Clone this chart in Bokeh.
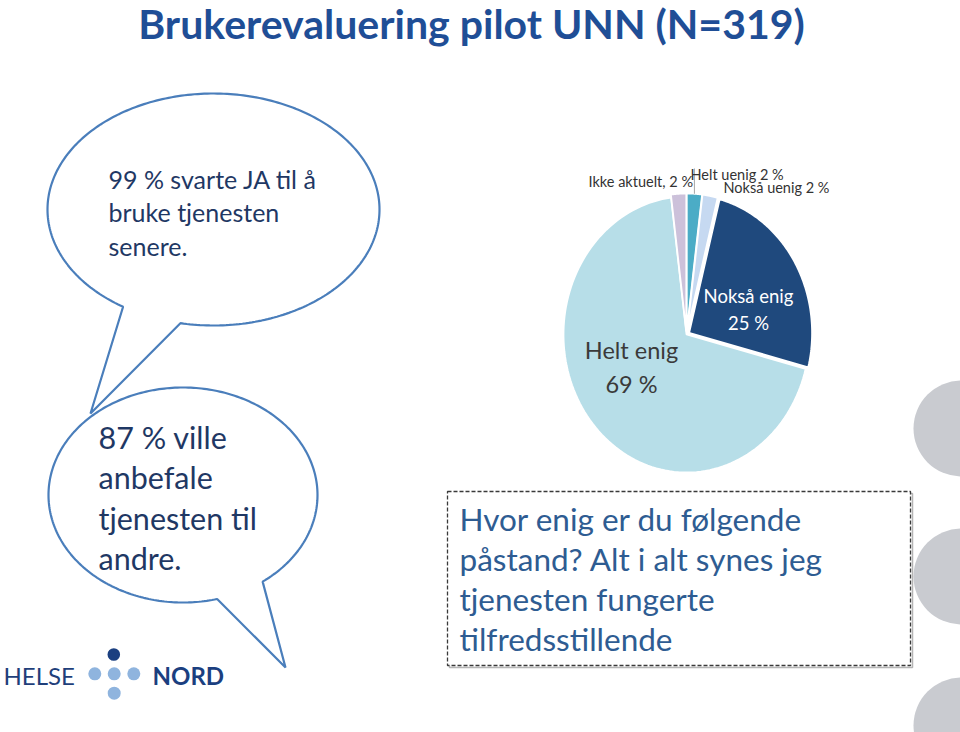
import numpy as np
from bokeh.plotting import figure
from bokeh.models import Range1d
from bokeh.core.properties import value
from bokeh.embed import file_html
from bokeh.resources import INLINE

# ---------------- data ----------------
title = "Brukerevaluering pilot UNN (N=319)"
categories = ["Helt uenig", "Nokså uenig", "Nokså enig", "Helt enig", "Ikke aktuelt"]
percent = [2, 2, 25, 69, 2]
slice_colors = ["#4BACC6", "#C6D9F1", "#1F497D", "#B7DEE8", "#CCC1DA"]
bubble1_lines = ["99 % svarte JA til å", "bruke tjenesten", "senere."]
bubble2_lines = ["87 % ville", "anbefale", "tjenesten til", "andre."]
question_lines = ["Hvor enig er du følgende", "påstand? Alt i alt synes jeg",
                  "tjenesten fungerte", "tilfredsstillende"]
logo_words = ["HELSE", "NORD"]

FONT = value("Lato")
W, H = 960, 732

p = figure(width=W, height=H, x_range=Range1d(0, W), y_range=Range1d(H, 0),
           output_backend="svg", toolbar_location=None,
           x_axis_type=None, y_axis_type=None, min_border=0)
p.outline_line_color = None
p.background_fill_color = "white"
p.border_fill_color = "white"


def label(x, y, text, size, color, align="left", bold=False):
    p.text(x=x, y=y, text=text, text_font=FONT, text_font_size=size,
           text_font_style="bold" if bold else "normal", text_color=color,
           text_align=align, text_baseline="middle")


# ---------------- title ----------------
label([471], [23], [title], "41px", "#1F4E96", align="center", bold=True)

# ---------------- decorative grey circles (right edge) ----------------
p.circle(x=[961, 961, 961], y=[428, 576, 725], radius=48,
         fill_color="#C9CBD0", line_color=None)


# ---------------- speech bubbles ----------------
def bubble(cx, cy, rx, ry, t_left, t_right, tip):
    t = np.radians(np.linspace(t_left, 360 + t_right, 300))
    xs = list(cx + rx * np.cos(t)) + [tip[0]]
    ys = list(cy + ry * np.sin(t)) + [tip[1]]
    return xs, ys


bx1, by1 = bubble(213, 209, 166, 116, 123, 101.5, (90, 413))
p.patch(bx1, by1, fill_color="white", line_color="#4A7EBB", line_width=2.2)
bx2, by2 = bubble(182.5, 494.5, 134.5, 107.5, 75.3, 53.7, (285, 667))
p.patch(bx2, by2, fill_color="white", line_color="#4A7EBB", line_width=2.2)

label([108] * len(bubble1_lines), [178 + 33.5 * i for i in range(len(bubble1_lines))],
      bubble1_lines, "25px", "#1F3864")
label([98] * len(bubble2_lines), [436 + 40.5 * i for i in range(len(bubble2_lines))],
      bubble2_lines, "30.5px", "#1F3864")

# ---------------- pie (elliptical, slight explode) ----------------
cx, cy, rx, ry = 686, 334, 123, 138
explode = [3, 3, 3, 0, 3]
vals = np.array(percent, dtype=float)
fr = vals / vals.sum() * 2 * np.pi
ends = np.cumsum(fr)
starts = ends - fr
xs, ys, mids = [], [], []
for a0, a1, e in zip(starts, ends, explode):
    mid = (a0 + a1) / 2
    mids.append(mid)
    ox, oy = cx + e * np.sin(mid), cy - e * np.cos(mid)
    t = np.linspace(a0, a1, 120)
    xs.append(list(np.concatenate([[ox], ox + rx * np.sin(t)])))
    ys.append(list(np.concatenate([[oy], oy - ry * np.cos(t)])))
p.patches(xs, ys, fill_color=slice_colors, line_color="white", line_width=1.8)

# leader line for the first small slice
m0 = mids[0]
lx = cx + (rx + explode[0]) * np.sin(m0)
ly = cy - (ry + explode[0]) * np.cos(m0)
p.line(x=[lx, lx], y=[ly, 168], line_color="#A6A6A6", line_width=1)

# pie labels
label([588], [181], [f"{categories[4]}, {percent[4]} %"], "14.5px", "#333333")
label([690], [174], [f"{categories[0]} {percent[0]} %"], "14.5px", "#333333")
label([723], [187], [f"{categories[1]} {percent[1]} %"], "14.5px", "#333333")
label([748, 748], [295, 322], [categories[2], f"{percent[2]} %"], "18.5px", "white",
      align="center")
label([631, 631], [349, 383], [categories[3], f"{percent[3]} %"], "23.5px", "#3A3A3A",
      align="center")

# ---------------- question box ----------------
p.quad(left=[449], right=[912], top=[493], bottom=[667], fill_color=None,
       line_color="#B5B5B5", line_width=1.5)
p.quad(left=[447], right=[910], top=[491], bottom=[665], fill_color="white",
       line_color="#3A3A3A", line_width=1.3, line_dash="4 2")
label([459] * len(question_lines), [518 + 40 * i for i in range(len(question_lines))],
      question_lines, "31.5px", "#2E5C92")

# ---------------- logo ----------------
p.circle(x=[113.3], y=[654], radius=6.3, fill_color="#1B3F80", line_color=None)
p.circle(x=[94.3, 113.7, 133.3, 113.7], y=[673.3, 673.3, 673.3, 692.7], radius=6.5,
         fill_color="#8FB4DE", line_color=None)
label([3], [675], [logo_words[0]], "24px", "#1F3F7A")
label([152], [675], [logo_words[1]], "24px", "#1B3F80", bold=True)

open("out.html", "w").write(file_html(p, INLINE))
